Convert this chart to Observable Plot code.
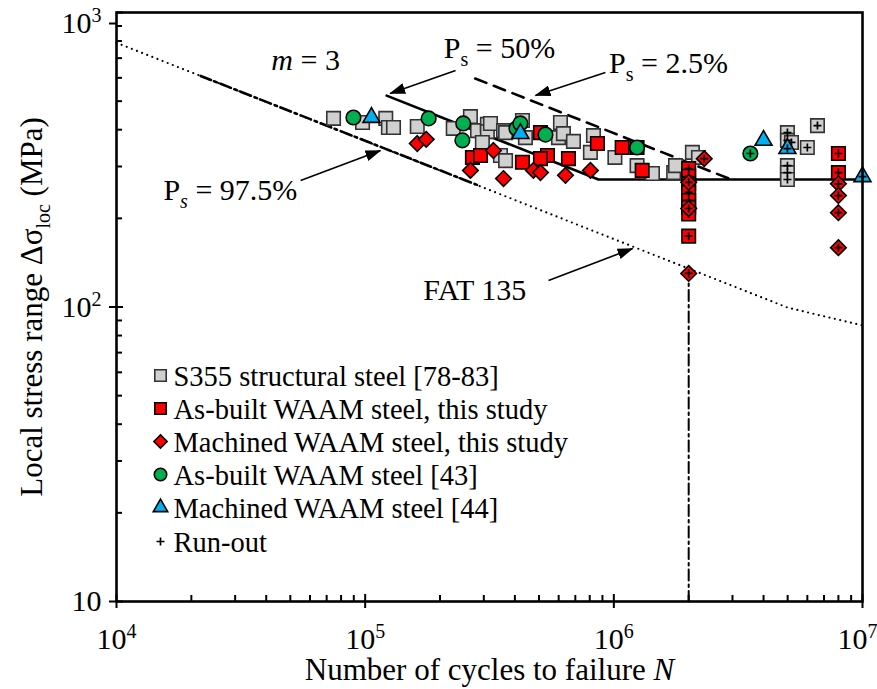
<!DOCTYPE html>
<html><head><meta charset="utf-8">
<script src="https://cdn.jsdelivr.net/npm/d3@7"></script>
<script src="https://cdn.jsdelivr.net/npm/@observablehq/plot@0.6"></script>
<style>body{margin:0;background:#fff;} svg{display:block}</style>
</head><body><div id="chart"></div>
<script>
// ---------- data (N cycles, stress range MPa) ----------
const s355Failed = [[7.46e4,437],[9.76e4,423],[1.21e5,437],[1.24e5,407],[1.30e5,407],[1.62e5,410],[2.26e5,404],[2.65e5,443],[2.83e5,397],[3.10e5,417],[3.10e5,394],[3.19e5,420],[3.60e5,397],[3.67e5,391],[2.96e5,362],[3.50e5,327],[3.67e5,314],[4.29e5,430],[4.41e5,376],[5.99e5,376],[6.10e5,423],[6.27e5,388],[6.88e5,365],[8.28e5,382],[8.05e5,335],[1.01e6,322],[1.24e6,302],[1.43e6,284],[1.74e6,286],[1.77e6,302],[2.07e6,335],[2.19e6,322]];
const s355Runout = [[4.99e6,391],[4.99e6,368],[5.18e6,362],[4.99e6,302],[4.99e6,286],[4.99e6,271],[6.0e6,348],[6.59e6,413]];
const asBuiltFailed = [[2.70e5,322],[2.91e5,327],[4.29e5,310],[5.07e5,391],[5.41e5,327],[5.07e5,319],[6.57e5,319],[8.59e5,359],[1.08e6,348],[1.24e6,348],[1.30e6,291]];
const asBuiltRunout = [[2e6,295],[2e6,278],[2e6,262],[2e6,245],[2e6,230],[2e6,218],[2e6,207],[2e6,174],[8e6,332],[8e6,286]];
const machinedFailed = [[1.62e5,359],[1.76e5,371],[2.65e5,291],[3.28e5,340],[3.60e5,273],[4.75e5,291],[5.07e5,286],[6.39e5,280],[8.05e5,291]];
const machinedRunout = [[2.31e6,319],[2e6,265],[2e6,216],[2e6,130],[8e6,262],[8e6,239],[8e6,209],[8e6,159]];
const asBuilt43Failed = [[8.97e4,440],[1.80e5,437],[2.48e5,420],[2.46e5,368],[4.06e5,404],[4.21e5,420],[5.31e5,385],[1.24e6,348]];
const asBuilt43Runout = [[3.54e6,332]];
const machined44Failed = [[1.06e5,440],[4.21e5,388],[4.0e6,368]];
const machined44Runout = [[4.99e6,345],[1e7,277]];

// design / probability curves
const fat135 = [[1e4,789],[2e6,135],[5e6,99.5],[1e7,86.6]];
const fatVertical = [[2e6,135],[2e6,10]];
const ps975 = [[2.18e4,609],[2.91e5,257]];
const ps50 = [[1.22e5,522],[8.67e5,271],[1e7,271]];
const ps25 = [[2.77e5,597],[3.0e6,270]];

// annotations
const annotLabels = ["*m* = 3","P_{s} = 50%","P_{s} = 2.5%","P_i{s} = 97.5%","FAT 135"];
const annotX = [5.76e4,3.47e5,1.66e6,2.87e4,2.76e5];
const annotY = [687,755,671,249,114];
const arrowFrom = [[2.31e5,635],[9.25e5,625],[5.5e4,269],[5.46e5,123]];
const arrowTo = [[1.26e5,531],[4.84e5,523],[1.152e5,340],[1.19e6,158]];

// axes
const xMajor = [1e4,1e5,1e6,1e7];
const xMinor = [1e4,1e5,1e6].flatMap(d => [2,3,4,5,6,7,8,9].map(m => m*d));
const yMajor = [10,100,1000];
const yMinor = [10,100].flatMap(d => [2,3,4,5,6,7,8,9].map(m => m*d));
const legendLabels = ["S355 structural steel [78-83]","As-built WAAM steel, this study","Machined WAAM steel, this study","As-built WAAM steel [43]","Machined WAAM steel [44]","Run-out"];

// ---------- styles ----------
const FS = 30;
const GRAY = "#d0d0d0", RED = "#ff0000", GREEN = "#00b050", BLUE = "#00b0f0";
const series = [
  {failed: s355Failed, runout: s355Runout, symbol: "square", fill: GRAY, stroke: "#333", r: 7.6},
  {failed: asBuiltFailed, runout: asBuiltRunout, symbol: "square", fill: RED, stroke: "#000", r: 7.6},
  {failed: machinedFailed, runout: machinedRunout, symbol: "diamond2", fill: RED, stroke: "#000", r: 7.0},
  {failed: asBuilt43Failed, runout: asBuilt43Runout, symbol: "circle", fill: GREEN, stroke: "#000", r: 7.3},
  {failed: machined44Failed, runout: machined44Runout, symbol: "triangle", fill: BLUE, stroke: "#000", r: 6.3}
];
const X = d => d[0], Y = d => d[1];
const fmtPow = v => { const e = Math.round(Math.log10(v)); return e === 1 ? "10" : `10^{${e}}`; };

const marks = [];
// curves
marks.push(Plot.line(fat135, {x: X, y: Y, stroke: "#000", strokeWidth: 2.2, strokeDasharray: "0,5.5", strokeLinecap: "round"}));
marks.push(Plot.line(ps975, {x: X, y: Y, stroke: "#000", strokeWidth: 2.6, strokeDasharray: "11,4,2.5,4"}));
marks.push(Plot.line(fatVertical, {x: X, y: Y, stroke: "#000", strokeWidth: 2, strokeDasharray: "11,4,2.5,4"}));
marks.push(Plot.line(ps50, {x: X, y: Y, stroke: "#000", strokeWidth: 2.6}));
marks.push(Plot.line(ps25, {x: X, y: Y, stroke: "#000", strokeWidth: 2.6, strokeDasharray: "12,8"}));
// data
for (const s of series) {
  marks.push(Plot.dot(s.failed.concat(s.runout), {x: X, y: Y, symbol: () => s.symbol, fill: s.fill, stroke: s.stroke, strokeWidth: 1.6, r: s.r}));
  marks.push(Plot.dot(s.runout, {x: X, y: Y, symbol: () => "plus", stroke: "#000", strokeWidth: 1.7, r: 2.7}));
}
// annotations
marks.push(Plot.text(annotLabels, {x: (d,i) => annotX[i], y: (d,i) => annotY[i], text: d => d, fontSize: FS}));
marks.push(Plot.link(arrowFrom, {x1: X, y1: Y, x2: (d,i) => arrowTo[i][0], y2: (d,i) => arrowTo[i][1], stroke: "#000", strokeWidth: 1.6}));
// legend
series.forEach((s, i) => {
  marks.push(Plot.dot([0], {frameAnchor: "top-left", dx: 44, dy: 363 + i * 33, symbol: () => s.symbol, fill: s.fill, stroke: s.stroke, strokeWidth: 1.6, r: s.r * 0.85}));
});
marks.push(Plot.dot([0], {frameAnchor: "top-left", dx: 44, dy: 529, symbol: () => "plus", stroke: "#000", strokeWidth: 1.7, r: 2.7}));
legendLabels.forEach((t, i) => {
  marks.push(Plot.text([t], {frameAnchor: "top-left", dx: 57, dy: 364 + (i < 5 ? i * 33 : 166), text: d => d, textAnchor: "start", lineAnchor: "middle", fontSize: 28.5}));
});
// axes
marks.push(Plot.axisX({ticks: xMajor.slice(0, 3), tickFormat: fmtPow, tickSize: 7, tickPadding: 19, strokeWidth: 2, label: null, fontSize: FS}));
marks.push(Plot.axisX({ticks: xMajor.slice(3), tickFormat: fmtPow, tickSize: 0, tickPadding: 26, dx: -5, strokeWidth: 0, label: null, fontSize: FS}));
marks.push(Plot.axisX({ticks: xMajor.slice(3), text: null, tickSize: 7, strokeWidth: 2, label: null}));
marks.push(Plot.axisX({ticks: xMajor, text: null, tickSize: -7, strokeWidth: 2, label: null}));
marks.push(Plot.axisX({ticks: xMinor, text: null, tickSize: -6, strokeWidth: 2, label: null}));
marks.push(Plot.axisY({ticks: [10, 100], tickFormat: fmtPow, tickSize: 7, tickPadding: 8, strokeWidth: 2, label: null, fontSize: FS}));
marks.push(Plot.axisY({ticks: [1000], tickFormat: fmtPow, tickSize: 7, tickPadding: 8, dy: 11, strokeWidth: 2, label: null, fontSize: FS}));
marks.push(Plot.axisY({ticks: yMajor, text: null, tickSize: -7, strokeWidth: 2, label: null}));
marks.push(Plot.axisY({ticks: yMinor, text: null, tickSize: -6, strokeWidth: 2, label: null}));
marks.push(Plot.frame({stroke: "#000", strokeWidth: 2.6}));
// axis titles
marks.push(Plot.text(["Number of cycles to failure *N*"], {frameAnchor: "bottom", dy: 69, text: d => d, textAnchor: "middle", lineAnchor: "middle", fontSize: 31}));
marks.push(Plot.text(["Local stress range Δσ_{loc} (MPa)"], {frameAnchor: "left", dx: -84, rotate: -90, text: d => d, textAnchor: "middle", lineAnchor: "middle", fontSize: 31}));

const chart = Plot.plot({
  width: 877, height: 689,
  marginLeft: 116, marginRight: 15, marginTop: 12, marginBottom: 88,
  x: {type: "log", domain: [1e4, 1e7]},
  y: {type: "log", domain: [10, 1000]},
  style: {fontFamily: "'Liberation Serif','Times New Roman',serif", fontSize: FS + "px", color: "#000", background: "#fff", overflow: "visible"},
  marks
});
document.getElementById("chart").appendChild(chart);

// ---------- post-processing: rich text & arrowheads ----------
const NS = "http://www.w3.org/2000/svg";
const SUB = 20;
function rich(el) {
  const s = el.textContent;
  if (!/(_i?\{|\^\{|\*)/.test(s)) return;
  while (el.firstChild) el.removeChild(el.firstChild);
  const parts = s.split(/(_i?\{[^}]*\}|\^\{[^}]*\}|\*[^*]*\*)/).filter(p => p !== "");
  let cur = 0;
  for (const p of parts) {
    const t = document.createElementNS(NS, "tspan");
    let target = 0;
    if (p.startsWith("_i{")) { t.textContent = p.slice(3, -1); t.setAttribute("font-size", SUB + "px"); t.setAttribute("font-style", "italic"); target = 8; }
    else if (p.startsWith("_{")) { t.textContent = p.slice(2, -1); t.setAttribute("font-size", SUB + "px"); target = 8; }
    else if (p.startsWith("^{")) { t.textContent = p.slice(2, -1); t.setAttribute("font-size", SUB + "px"); target = -11; }
    else if (p.startsWith("*")) { t.textContent = p.slice(1, -1); t.setAttribute("font-style", "italic"); }
    else t.textContent = p;
    if (target !== cur) { t.setAttribute("dy", (target - cur) + "px"); cur = target; }
    el.appendChild(t);
  }
}
chart.querySelectorAll("text").forEach(rich);

const defs = document.createElementNS(NS, "defs");
defs.innerHTML = '<marker id="ahead" viewBox="0 0 16 11" refX="15" refY="5.5" markerWidth="16" markerHeight="11" markerUnits="userSpaceOnUse" orient="auto"><path d="M0,0 L16,5.5 L0,11 Z" fill="#000"/></marker>';
chart.insertBefore(defs, chart.firstChild);
chart.querySelectorAll('g[aria-label="link"] path').forEach(p => p.setAttribute("marker-end", "url(#ahead)"));
</script>
</body></html>
